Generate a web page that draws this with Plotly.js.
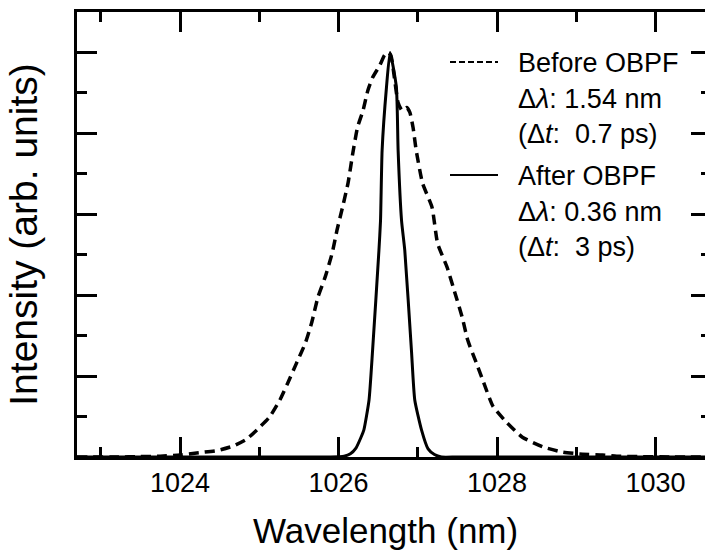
<!DOCTYPE html>
<html>
<head>
<meta charset="utf-8">
<script src="https://cdn.plot.ly/plotly-3.0.1.min.js"></script>
<style>
html,body{margin:0;padding:0;overflow:hidden;background:#fff;}
#chart{width:712px;height:555px;}
</style>
</head>
<body>
<div id="chart"></div>
<script>
// Before OBPF (dashed) spectrum
const beforeX = [1022.70, 1023.20, 1023.50, 1023.75, 1024.00, 1024.21, 1024.47, 1024.67, 1024.84, 1024.97,
  1025.13, 1025.26, 1025.36, 1025.47, 1025.58, 1025.66, 1025.74, 1025.83, 1025.92, 1025.98,
  1026.05, 1026.12, 1026.18, 1026.24, 1026.31, 1026.37, 1026.43, 1026.52, 1026.58, 1026.62,
  1026.66, 1026.71, 1026.75, 1026.80, 1026.86, 1026.90, 1026.94, 1026.98, 1027.06, 1027.18,
  1027.25, 1027.37, 1027.47, 1027.56, 1027.63, 1027.74, 1027.82, 1027.95, 1028.12, 1028.32,
  1028.58, 1028.83, 1029.08, 1029.33, 1029.51, 1029.80, 1030.20, 1030.70];
const beforeY = [0.000, 0.000, 0.001, 0.002, 0.005, 0.010, 0.016, 0.027, 0.044, 0.067,
  0.099, 0.141, 0.183, 0.232, 0.281, 0.331, 0.395, 0.444, 0.504, 0.560,
  0.617, 0.677, 0.751, 0.815, 0.857, 0.906, 0.938, 0.968, 0.993, 1.000,
  0.993, 0.930, 0.877, 0.857, 0.864, 0.852, 0.815, 0.758, 0.677, 0.617,
  0.528, 0.469, 0.405, 0.346, 0.289, 0.232, 0.190, 0.125, 0.086, 0.049,
  0.025, 0.012, 0.007, 0.005, 0.002, 0.001, 0.000, 0.000];

// After OBPF (solid) spectrum
const afterX = [1022.70, 1025.90, 1026.07, 1026.15, 1026.22, 1026.28, 1026.32, 1026.385, 1026.43, 1026.51,
  1026.53, 1026.55, 1026.605, 1026.65, 1026.73, 1026.752, 1026.795, 1026.836, 1026.92, 1026.962,
  1027.047, 1027.13, 1027.21, 1027.30, 1027.50, 1030.70];
const afterY = [0.000, 0.000, 0.002, 0.008, 0.022, 0.047, 0.067, 0.141, 0.264, 0.511,
  0.585, 0.758, 0.914, 1.000, 0.914, 0.758, 0.585, 0.511, 0.264, 0.141,
  0.067, 0.020, 0.006, 0.000, 0.000, 0.000];

const xTickVals = [1024, 1026, 1028, 1030];
const xTickText = ["1024", "1026", "1028", "1030"];

const legendLines = [
  "Before OBPF",
  "\u0394<i>\u03bb</i>: 1.54 nm",
  "(\u0394<i>t</i>:\u00a0 0.7 ps)",
  "After OBPF",
  "\u0394<i>\u03bb</i>: 0.36 nm",
  "(\u0394<i>t</i>:\u00a0 3 ps)"
];

const FONT = "Liberation Sans, Arial, sans-serif";
const plotL = 77, plotR = 711, plotT = 12, plotB = 457;
const pw = plotR - plotL, ph = plotB - plotT;
const px = v => (v - plotL) / pw;
const py = v => (plotB - v) / ph;

const legendY = [63, 99, 134, 176, 212, 247];
const annotations = legendLines.map((t, i) => ({
  xref: 'paper', yref: 'paper', x: px(516), y: py(legendY[i]),
  xanchor: 'left', yanchor: 'middle', showarrow: false, text: t,
  font: {family: FONT, size: 27, color: '#000'}
}));
annotations.push({
  xref: 'paper', yref: 'paper', x: px(385), y: py(530),
  xanchor: 'center', yanchor: 'middle', showarrow: false, text: 'Wavelength (nm)',
  font: {family: FONT, size: 35, color: '#000'}
});

const shapes = [
  {type: 'line', xref: 'paper', yref: 'paper', x0: px(450), x1: px(498), y0: py(62), y1: py(62),
   line: {color: '#000', width: 2, dash: '6px,3px'}},
  {type: 'line', xref: 'paper', yref: 'paper', x0: px(450), x1: px(498), y0: py(175), y1: py(175),
   line: {color: '#000', width: 2}}
];

const traces = [
  {x: beforeX, y: beforeY, type: 'scatter', mode: 'lines', name: 'Before OBPF',
   line: {color: '#000', width: 3.5, dash: '10px,6px', shape: 'spline', smoothing: 0.5}},
  {x: afterX, y: afterY, type: 'scatter', mode: 'lines', name: 'After OBPF',
   line: {color: '#000', width: 3, shape: 'spline', smoothing: 0.5}}
];

const axisCommon = {
  showline: true, linecolor: '#000', linewidth: 3, mirror: 'ticks',
  ticks: 'inside', ticklen: 20, tickwidth: 3, tickcolor: '#000',
  showgrid: false, zeroline: false
};

const layout = {
  width: 712, height: 555,
  margin: {l: plotL, r: 712 - plotR, t: plotT, b: 555 - plotB},
  paper_bgcolor: '#fff', plot_bgcolor: '#fff',
  showlegend: false,
  font: {family: FONT, color: '#000'},
  xaxis: Object.assign({}, axisCommon, {
    range: [1022.70, 1030.70], tickmode: 'array', tickvals: xTickVals, ticktext: xTickText,
    tickfont: {family: FONT, size: 27, color: '#000'},
    minor: {dtick: 1, tick0: 1023, ticks: 'inside', ticklen: 10, tickwidth: 3, tickcolor: '#000', showgrid: false}
  }),
  yaxis: Object.assign({}, axisCommon, {
    range: [0, 1.1], dtick: 0.2, tick0: 0, showticklabels: false,
    minor: {dtick: 0.1, ticks: 'inside', ticklen: 10, tickwidth: 3, tickcolor: '#000', showgrid: false},
    title: {text: 'Intensity (arb. units)', font: {family: FONT, size: 39, color: '#000'}, standoff: 25}
  }),
  annotations: annotations,
  shapes: shapes
};

Plotly.newPlot('chart', traces, layout, {staticPlot: true, displayModeBar: false});
</script>
</body>
</html>
